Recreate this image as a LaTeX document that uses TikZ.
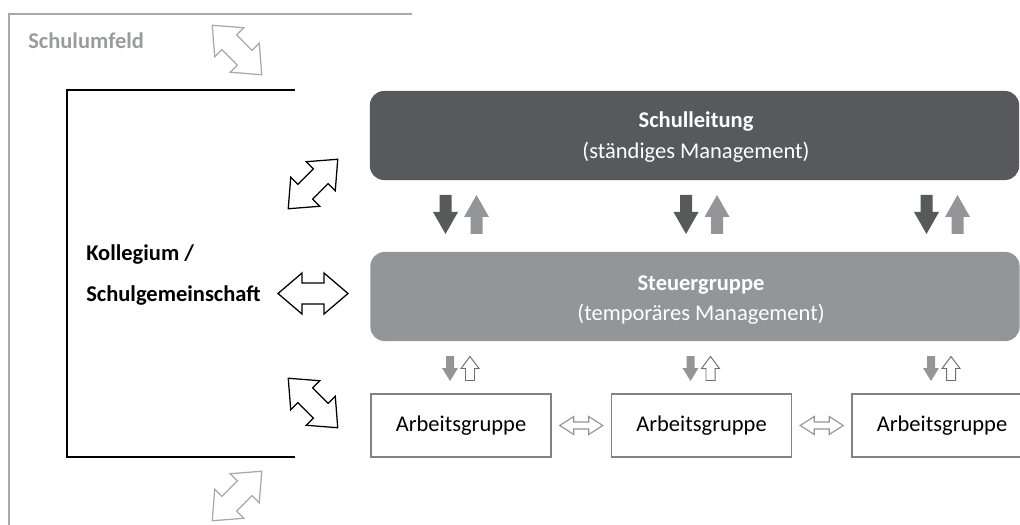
\documentclass[tikz,border=0pt]{standalone}
\usepackage{fontspec}
\setmainfont{Carlito}
\usetikzlibrary{calc,positioning}

\definecolor{leitgrau}{HTML}{58595B}
\definecolor{steuergrau}{HTML}{939598}
\definecolor{umfeldgrau}{HTML}{A7A9AC}
\definecolor{umfeldschrift}{HTML}{9A9B9E}
\definecolor{rahmengrau}{HTML}{808285}
\definecolor{pfeilgrau}{HTML}{6D6E71}

\def\doppelpfeil[#1](#2)(#3:#4:#5:#6:#7){\draw[#1,shift={(#2)},rotate=#3] ({-#4/2},0) -- ({-#4/2+#5},#6) -- ({-#4/2+#5},#7) -- ({#4/2-#5},#7) -- ({#4/2-#5},#6) -- ({#4/2},0) -- ({#4/2-#5},-#6) -- ({#4/2-#5},-#7) -- ({-#4/2+#5},-#7) -- ({-#4/2+#5},-#6) -- cycle;}
\def\pfeil[#1](#2)(#3:#4:#5:#6:#7){\draw[#1,shift={(#2)},rotate=#3] ({-#4/2},-#7) -- ({#4/2-#5},-#7) -- ({#4/2-#5},-#6) -- ({#4/2},0) -- ({#4/2-#5},#6) -- ({#4/2-#5},#7) -- ({-#4/2},#7) -- cycle;}

\tikzset{
  umfeldlinie/.style={draw=umfeldgrau, line width=1pt},
  umfeldtext/.style={text=umfeldschrift, font=\bfseries\fontsize{16}{19}\selectfont, inner sep=0pt},
  umfeldpfeil/.style={draw=umfeldgrau, fill=white, line width=0.9pt},
  kollegrahmen/.style={draw=black, line width=1pt},
  kollegtext/.style={font=\bfseries\fontsize{16}{19}\selectfont, inner sep=0pt},
  kollegpfeil/.style={draw=black, fill=white, line width=0.9pt},
  leitbox/.style={fill=leitgrau, rounded corners=0.35cm, minimum width=16.225cm, minimum height=2.225cm, inner sep=0pt},
  steuerbox/.style={leitbox, fill=steuergrau},
  boxtext/.style={text=white, align=center, inner sep=0pt, font=\fontsize{16}{21.5}\selectfont},
  agbox/.style={draw=rahmengrau, line width=1pt, fill=white, minimum width=4.5cm, minimum height=1.575cm, inner sep=0pt, font=\fontsize{16}{19}\selectfont},
  leitpfeil/.style={fill=leitgrau, draw=none},
  steuerpfeil/.style={fill=steuergrau, draw=none},
  agpfeilvoll/.style={fill=steuergrau, draw=none},
  agpfeilleer/.style={draw=pfeilgrau, fill=white, line width=0.7pt},
  agdoppel/.style={draw=steuergrau, fill=white, line width=0.8pt}
}

\begin{document}
\begin{tikzpicture}[x=0.025cm,y=-0.025cm]
			%%%%% START %%%%%
			\useasboundingbox (0,0) rectangle (1020,525);
			\clip (0,0) rectangle (1020,525);
			
			% Schulumfeld
			\draw[umfeldlinie] (412,14) -- (9,14) -- (9,530);
			\node[umfeldtext, anchor=base west] (umfeld) at (28,49) {Schulumfeld};
			\doppelpfeil[umfeldpfeil](237,50)(-45:70:24:20.5:10.5)
			\doppelpfeil[umfeldpfeil](237,496)(45:70:24:20.5:10.5)
			
			% Kollegium
			\draw[kollegrahmen] (295,90) -- (67,90) -- (67,457) -- (295,457);
			\node[kollegtext, anchor=base west] (kollegium) at (86,261) {Kollegium /};
			\node[kollegtext, anchor=base west] (gemeinschaft) at (86,302) {Schulgemeinschaft};
			\doppelpfeil[kollegpfeil](313,184)(45:70:24:20.5:10.5)
			\doppelpfeil[kollegpfeil](313,293.5)(0:70:24:20.5:10.5)
			\doppelpfeil[kollegpfeil](313,403)(-45:70:24:20.5:10.5)
			
			% Leitung und Steuergruppe
			\node[leitbox] (leitung) at (694.5,135.5) {};
			\node[boxtext] (leittext) at (696,137) {{\bfseries Schulleitung}\\(ständiges Management)};
			\node[steuerbox] (steuer) at (695,296.5) {};
			\node[boxtext] (steuertext) at (701,300) {{\bfseries Steuergruppe}\\(temporäres Management)};
			
			% Arbeitsgruppen
			\node[agbox] (ag1) at (461,425.5) {Arbeitsgruppe};
			\node[agbox] (ag2) at (701.5,425.5) {Arbeitsgruppe};
			\node[agbox] (ag3) at (942,425.5) {Arbeitsgruppe};
			
			\foreach \x in {461,701.5,942} {
				\pfeil[leitpfeil](\x-15.5,214.5)(-90:39:22:12.5:6)
				\pfeil[steuerpfeil](\x+15.5,214.5)(90:39:22:12.5:6)
				\pfeil[agpfeilvoll](\x-11,368.5)(-90:25:13:8:4)
				\pfeil[agpfeilleer](\x+9,368.5)(90:24:12:9:4.5)
			}
			
			\coordinate (zw12) at ($(ag1.east)!0.5!(ag2.west)$);
			\coordinate (zw23) at ($(ag2.east)!0.5!(ag3.west)$);
			\doppelpfeil[agdoppel](zw12)(0:43:14:9:3.5)
			\doppelpfeil[agdoppel](zw23)(0:43:14:9:3.5)
			
			%%%%% END %%%%%
\end{tikzpicture}
\end{document}
